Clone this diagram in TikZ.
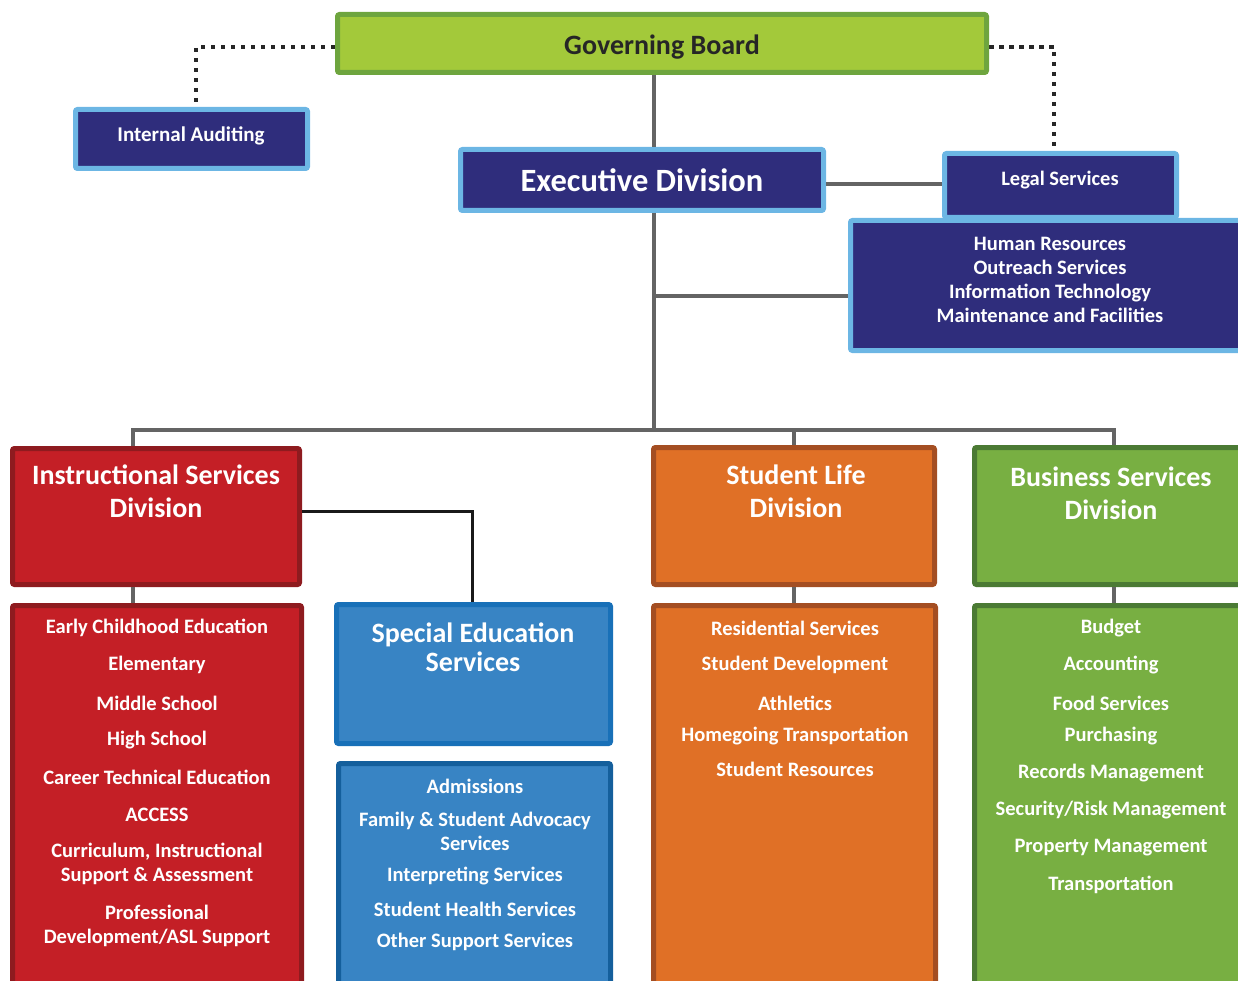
\documentclass[tikz,border=0pt]{standalone}
\usepackage{fontspec}
\setmainfont{Carlito}
\usetikzlibrary{positioning}

\definecolor{navy}{RGB}{47,45,124}
\definecolor{skyline}{RGB}{108,182,228}
\definecolor{boardfill}{RGB}{163,201,58}
\definecolor{boardline}{RGB}{110,165,62}
\definecolor{instrfill}{RGB}{196,31,38}
\definecolor{instrline}{RGB}{142,27,31}
\definecolor{lifefill}{RGB}{224,112,38}
\definecolor{lifeline}{RGB}{164,78,34}
\definecolor{bizfill}{RGB}{120,175,66}
\definecolor{bizline}{RGB}{75,122,52}
\definecolor{spedfill}{RGB}{56,132,196}
\definecolor{spedline}{RGB}{24,112,184}
\definecolor{trunkgray}{RGB}{100,100,100}

\tikzset{
  box/.style={draw, line width=5pt, rounded corners=2pt, anchor=north west, inner sep=0pt},
  navybox/.style={box, fill=navy, draw=skyline, text=white, font=\fontsize{21}{24}\selectfont\bfseries, align=center},
  conn/.style={trunkgray, line width=4pt},
  dots/.style={black!85, line width=4.5pt, dash pattern=on 4.5pt off 5.5pt},
  title/.style={text=white, font=\fontsize{28}{33}\selectfont\bfseries, align=center},
  item/.style={text=white, font=\fontsize{20.5}{24}\selectfont\bfseries, align=center},
}

\begin{document}
\begin{tikzpicture}[x=1pt,y=-1pt]
  \useasboundingbox (0,0) rectangle (1238,981);
  \clip (0,0) rectangle (1238,981);

  \coordinate (auditturn) at (196,47);
  \coordinate (legalturn) at (1054,47);
  \coordinate (trunk) at (654,430);
  \coordinate (hrjoin) at (654,296);
  \coordinate (barL) at (133,430);
  \coordinate (barR) at (1114,430);
  \coordinate (spedturn) at (472,511);

  \draw[dots] (335,47) -- (auditturn) -- (196,107);
  \draw[dots] (989,47) -- (legalturn) -- (1054,151);

  \node[box, fill=boardfill, draw=boardline, minimum width=649pt, minimum height=58pt] (board) at (335,12) {};
  \node[font=\fontsize{28}{30}\selectfont\bfseries, text=black!85] (boardtext) at (662,47) {Governing Board};
  \node[navybox, minimum width=232pt, minimum height=59pt] (audit) at (73,107) {};
  \node[item, font=\fontsize{21}{24}\selectfont\bfseries] (audittext) at (191,136) {Internal Auditing};
  \node[navybox, minimum width=363pt, minimum height=61pt, font=\fontsize{32.5}{36}\selectfont\bfseries] (exec) at (458,147) {Executive Division};
  \node[navybox, minimum width=232pt, minimum height=64pt] (legal) at (942,151) {};
  \node[item] (legaltext) at (1060,180) {Legal Services};
  \node[navybox, minimum width=397pt, minimum height=130pt] (hr) at (848,218) {};
  \node[item] (hrtext) at (1050,280) {Human Resources\\Outreach Services\\Information Technology\\Maintenance and Facilities};

  \draw[conn] (board.south -| trunk) -- (exec.north -| trunk);
  \draw[conn] (exec.south -| trunk) -- (trunk);
  \draw[conn] (hrjoin) -- (hrjoin -| hr.west);
  \draw[conn] (exec.east |- 0,184) -- (legal.west |- 0,184);

  \node[box, fill=instrfill, draw=instrline, minimum width=287pt, minimum height=136pt] (instr) at (10,446) {};
  \node[box, fill=instrfill, draw=instrline, minimum width=289pt, minimum height=392pt] (instrlist) at (10,603) {};
  \node[box, fill=spedfill, draw=spedline, minimum width=274pt, minimum height=139pt] (sped) at (334,602) {};
  \node[box, fill=spedfill, draw=spedline!85!black, minimum width=272pt, minimum height=234pt] (spedlist) at (336,761) {};
  \node[box, fill=lifefill, draw=lifeline, minimum width=281pt, minimum height=137pt] (life) at (651,445) {};
  \node[box, fill=lifefill, draw=lifeline, minimum width=282pt, minimum height=392pt] (lifelist) at (651,603) {};
  \node[box, fill=bizfill, draw=bizline, minimum width=273pt, minimum height=137pt] (biz) at (972,445) {};
  \node[box, fill=bizfill, draw=bizline, minimum width=273pt, minimum height=392pt] (bizlist) at (972,603) {};

  \draw[conn] (instr.north -| barL) |- (barR) -- (biz.north -| barR);
  \draw[conn] (life.north) -- (life.north |- barL);
  \draw[conn] (instr.south -| barL) -- (instrlist.north -| barL);
  \draw[conn] (life.south) -- (lifelist.north -| life.south);
  \draw[conn] (biz.south -| barR) -- (bizlist.north -| barR);
  \draw[black!90, line width=3pt] (instr.east |- spedturn) -- (spedturn) -- (sped.north -| spedturn);

  \node[title] (instrtitle) at (156,491) {Instructional Services\\Division};
  \node[title, font=\fontsize{28}{29}\selectfont\bfseries] (spedtitle) at (473,647) {Special Education\\Services};
  \node[title] (lifetitle) at (796,491) {Student Life\\Division};
  \node[title] (biztitle) at (1111,493) {Business Services\\Division};

  \foreach \y/\txt [count=\i] in {628/Early Childhood Education, 665/Elementary, 703/Middle School,
      740/High School, 777/Career Technical Education, 815/ACCESS,
      864/{Curriculum, Instructional\\Support \& Assessment}, 926/{Professional\\Development/ASL Support}}
    \node[item] (instr-\i) at (157,\y) {\txt};

  \foreach \y/\txt [count=\i] in {786/Admissions, 831/{Family \& Student Advocacy\\Services},
      876/Interpreting Services, 909/Student Health Services, 942/Other Support Services}
    \node[item] (sped-\i) at (475,\y) {\txt};

  \foreach \y/\txt [count=\i] in {628/Residential Services, 665/Student Development, 703/Athletics,
      736/Homegoing Transportation, 769/Student Resources}
    \node[item] (life-\i) at (795,\y) {\txt};

  \foreach \y/\txt [count=\i] in {628/Budget, 665/Accounting, 703/Food Services, 736/Purchasing,
      773/Records Management, 810/{Security/Risk Management}, 848/Property Management, 885/Transportation}
    \node[item] (biz-\i) at (1111,\y) {\txt};
\end{tikzpicture}
\end{document}
